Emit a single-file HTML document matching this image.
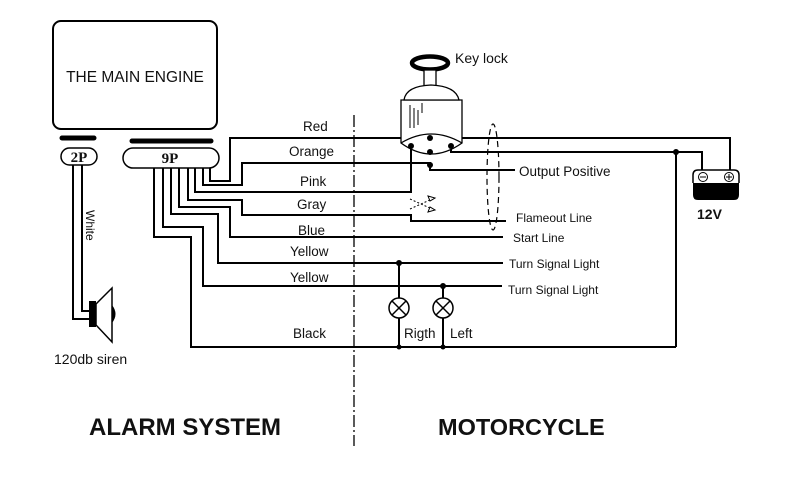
<!DOCTYPE html>
<html><head><meta charset="utf-8"><style>
html,body{margin:0;padding:0;background:#fff;}
svg{display:block;}
text{font-family:"Liberation Sans",sans-serif;fill:#111;}
</style></head><body>
<svg width="796" height="494" viewBox="0 0 796 494" xmlns="http://www.w3.org/2000/svg">
<rect width="796" height="494" fill="#fff"/>
<g fill="none" stroke="#000" stroke-width="2.5">
<rect x="53" y="21" width="164" height="108" rx="8" stroke-width="2"/>
</g>
<text x="135" y="82" font-size="15.5" text-anchor="middle" fill="#000">THE MAIN ENGINE</text>
<line x1="62" y1="138" x2="94" y2="138" stroke="#000" stroke-width="5" stroke-linecap="round"/>
<line x1="132" y1="141" x2="211" y2="141" stroke="#000" stroke-width="5" stroke-linecap="round"/>
<rect x="61" y="148" width="36" height="17" rx="8.5" fill="#fff" stroke="#000" stroke-width="1.5"/>
<rect x="123" y="148" width="96" height="20" rx="10" fill="#fff" stroke="#000" stroke-width="1.5"/>
<text x="79" y="162" font-size="15" font-weight="bold" text-anchor="middle" style="font-family:'Liberation Serif',serif">2P</text>
<text x="170" y="163" font-size="15" font-weight="bold" text-anchor="middle" style="font-family:'Liberation Serif',serif">9P</text>
<g fill="none" stroke="#000" stroke-width="2">
<polyline points="73,165 73,319 90,319"/>
<polyline points="82,165 82,311 90,311"/>
<polyline points="210,168 210,181 230,181 230,138 730,138 730,170"/>
<polyline points="203,168 203,185 242,185 242,163 430,163 430,170 515,170"/>
<polyline points="195,168 195,192 411,192 411,146"/>
<polyline points="188,168 188,200 242,200 242,215 411,215 411,221 506,221"/>
<polyline points="179,168 179,207 230,207 230,237 503,237"/>
<polyline points="171,168 171,214 218,214 218,263 503,263"/>
<polyline points="163,168 163,227 203,227 203,286 502,286"/>
<polyline points="154,168 154,237 191,237 191,347 676,347"/>
<polyline points="451,146 451,152 702,152 702,170"/>
<line x1="676" y1="152" x2="676" y2="347"/>
<line x1="399" y1="263" x2="399" y2="298"/>
<line x1="399" y1="318" x2="399" y2="347"/>
<line x1="443" y1="286" x2="443" y2="298"/>
<line x1="443" y1="318" x2="443" y2="347"/>
</g>
<g fill="#fff" stroke="#000" stroke-width="1.5">
<circle cx="399" cy="308" r="10"/><circle cx="443" cy="308" r="10"/>
</g>
<g stroke="#000" stroke-width="1.5">
<line x1="392" y1="301" x2="406" y2="315"/><line x1="406" y1="301" x2="392" y2="315"/>
<line x1="436" y1="301" x2="450" y2="315"/><line x1="450" y1="301" x2="436" y2="315"/>
</g>
<g fill="#000">
<circle cx="676" cy="152" r="3"/><circle cx="399" cy="263" r="3"/><circle cx="443" cy="286" r="3"/>
<circle cx="399" cy="347" r="2.5"/><circle cx="443" cy="347" r="2.5"/>
<circle cx="430" cy="165" r="3"/>
</g>
<rect x="89" y="301" width="7" height="26" fill="#000"/>
<polygon points="96,304 112,288 112,342 96,325" fill="#fff" stroke="#000" stroke-width="1.5"/>
<path d="M112,305 Q119,314 112,323 Z" fill="#000"/>
<ellipse cx="430" cy="63" rx="18" ry="6.5" fill="none" stroke="#000" stroke-width="4.5"/>
<g fill="#fff" stroke="#000" stroke-width="1.3">
<rect x="424" y="70" width="12" height="16"/>
<path d="M401,100 L401,143 Q431,165 462,143 L462,100 Z"/>
<path d="M404,100 Q406,86 431,85 Q456,86 459,100 Z"/>
<path d="M401,143 Q431,125 462,143"/>
</g>
<g stroke="#000" stroke-width="1"><line x1="410" y1="105" x2="410" y2="128"/><line x1="414" y1="108" x2="414" y2="128"/><line x1="418" y1="110" x2="418" y2="125"/><line x1="422" y1="103" x2="422" y2="113"/></g>
<g fill="#000"><circle cx="430" cy="138" r="3"/><circle cx="411" cy="146" r="3"/><circle cx="430" cy="152" r="3"/><circle cx="451" cy="146" r="3"/></g>
<g stroke="#000" stroke-width="1" fill="none" stroke-dasharray="2,2">
<line x1="410" y1="199" x2="432" y2="209"/><line x1="410" y1="209" x2="432" y2="199"/>
</g>
<g stroke="#000" stroke-width="1" fill="none"><polygon points="428,196 435,198 430,201"/><polygon points="428,212 435,210 430,207"/></g>
<ellipse cx="493" cy="177" rx="6" ry="53" fill="none" stroke="#000" stroke-width="1.2" stroke-dasharray="6,4"/>
<line x1="354" y1="115" x2="354" y2="446" stroke="#000" stroke-width="1.3" stroke-dasharray="12,3,2,3"/>
<path d="M693,183 L739,183 L739,195 Q739,200 734,200 L698,200 Q693,200 693,195 Z" fill="#000"/>
<path d="M693,183 L693,175 Q693,170 698,170 L734,170 Q739,170 739,175 L739,183" fill="#fff" stroke="#000" stroke-width="1.5"/>
<circle cx="703" cy="177" r="4.5" fill="none" stroke="#000"/><line x1="700" y1="177" x2="706" y2="177" stroke="#000"/>
<circle cx="729" cy="177" r="4.5" fill="none" stroke="#000"/><line x1="726" y1="177" x2="732" y2="177" stroke="#000"/><line x1="729" y1="174" x2="729" y2="180" stroke="#000"/>
<text x="303" y="131" font-size="13.5">Red</text>
<text x="289" y="156" font-size="13.5">Orange</text>
<text x="300" y="186" font-size="13.5">Pink</text>
<text x="297" y="209" font-size="13.5">Gray</text>
<text x="298" y="235" font-size="13.5">Blue</text>
<text x="290" y="256" font-size="13.5">Yellow</text>
<text x="290" y="282" font-size="13.5">Yellow</text>
<text x="293" y="338" font-size="13.5">Black</text>
<text x="455" y="63" font-size="14">Key lock</text>
<text x="519" y="176" font-size="13.5">Output Positive</text>
<text x="516" y="222" font-size="12">Flameout Line</text>
<text x="513" y="242" font-size="12">Start Line</text>
<text x="509" y="268" font-size="12">Turn Signal Light</text>
<text x="508" y="294" font-size="12">Turn Signal Light</text>
<text x="404" y="338" font-size="13.5">Rigth</text>
<text x="450" y="338" font-size="13.5">Left</text>
<text x="697" y="219" font-size="14" font-weight="bold">12V</text>
<text x="54" y="364" font-size="14">120db siren</text>
<text x="86" y="210" font-size="12" transform="rotate(90 86 210)">White</text>
<text x="89" y="435" font-size="24" font-weight="bold">ALARM SYSTEM</text>
<text x="438" y="435" font-size="23.5" font-weight="bold">MOTORCYCLE</text>
</svg>
</body></html>
